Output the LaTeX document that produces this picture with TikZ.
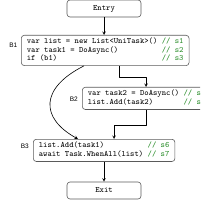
\documentclass[tikz,border=0pt]{standalone}
\usepackage{fontspec}
\newfontfamily\labelfont{Liberation Sans}
\definecolor{cmtgreen}{RGB}{40,140,40}
\definecolor{boxgray}{RGB}{90,90,90}
\newcommand{\cmt}[1]{\textcolor{cmtgreen}{#1}}
\tikzset{
  codebox/.style={draw=boxgray, rounded corners=3pt, line width=0.6pt, inner xsep=5.5pt, inner ysep=3pt,
    font=\ttfamily\fontsize{8.2}{8}\selectfont, align=left},
  termbox/.style={codebox, minimum width=74pt, minimum height=17pt},
  blabel/.style={font=\labelfont\fontsize{6.5}{6.5}\selectfont, anchor=east, inner sep=0pt},
  flow/.style={->, line width=0.6pt}
}
\begin{document}
\begin{tikzpicture}[x=1pt, y=-1pt, >=stealth, line join=round]
	\useasboundingbox (0,0) rectangle (200,200);
	\clip (0,0) rectangle (200,200);
	\node[termbox] (entry) at (104,8.5) {Entry};
	\node[codebox, anchor=north west] (b1) at (21,35) {%
		\begin{tabular}{@{}l@{\ }l@{}}
		var list = new List<UniTask>() & \cmt{// s1}\\
		var task1 = DoAsync()          & \cmt{// s2}\\
		if (b1)                        & \cmt{// s3}
		\end{tabular}};
	\node[codebox, anchor=north west] (b2) at (82,87) {%
		\begin{tabular}{@{}l@{\ }l@{}}
		var task2 = DoAsync() & \cmt{// s4}\\
		list.Add(task2)       & \cmt{// s5}
		\end{tabular}};
	\node[codebox, anchor=north west] (b3) at (33,139) {%
		\begin{tabular}{@{}l@{\ }l@{}}
		list.Add(task1)          & \cmt{// s6}\\
		await Task.WhenAll(list) & \cmt{// s7}
		\end{tabular}};
	\node[termbox] (exit) at (104,190.5) {Exit};
	% block labels
	\node[blabel] (l1) at (17.5,45) {B1};
	\node[blabel] (l2) at (78,99) {B2};
	\node[blabel] (l3) at (29,146) {B3};
	% edges
	\draw[flow] (entry) -- (b1.north -| entry);
	\draw[flow] (b1.south -| 119,0) |- (146,77) -- (b2.north -| 146,0);
	\draw[flow] (b1.south -| 84,0) .. controls (40,88) and (40,118) .. (b3.north -| 78,0);
	\draw[flow] (b2.south -| 146,0) |- (114,125) -- (b3.north -| 114,0);
	\draw[flow] (b3.south -| exit) -- (exit);
\end{tikzpicture}
\end{document}
